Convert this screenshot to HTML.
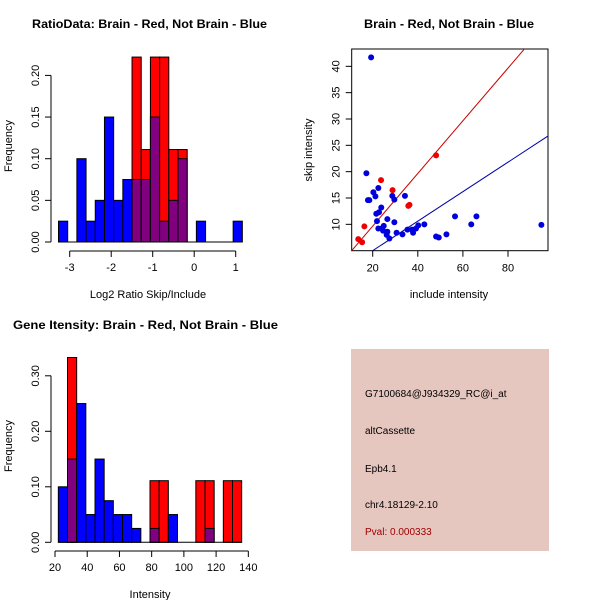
<!DOCTYPE html>
<html><head><meta charset="utf-8"><style>
html,body{margin:0;padding:0;background:#fff}
svg{display:block;font-family:"Liberation Sans",sans-serif}
</style></head><body>
<svg id="c" width="600" height="600" viewBox="0 0 600 600" xmlns="http://www.w3.org/2000/svg">
<rect width="600" height="600" fill="#fff"/>
<g id="p1"></g>
<g id="p2"></g>
<g id="p3"></g>
<g>
<rect x="351" y="349" width="198" height="202" fill="#e5c7c0"/>
<g font-size="10" fill="#000">
<text x="365" y="397">G7100684@J934329_RC@i_at</text>
<text x="365" y="434">altCassette</text>
<text x="365" y="472">Epb4.1</text>
<text x="365" y="508">chr4.18129-2.10</text>
<text x="365" y="535" fill="#a00000">Pval: 0.000333</text>
</g></g>
</svg>
<script>
// Plot 1 data
const h1Start = -3.27, h1Width = 0.2215;
const h1Blue = [0.025,0,0.10,0.025,0.05,0.15,0.05,0.075,0.075,0.075,0.15,0.025,0.05,0.10,0,0.025,0,0,0,0.025];
const h1Red  = [0,0,0,0,0,0,0,0,0.222,0.111,0.222,0.222,0.111,0.111,0,0,0,0,0,0];
const h1XTicks = [-3,-2,-1,0,1];
const h1YTicks = [0,0.05,0.10,0.15,0.20];
const h1YLabels = ["0.00","0.05","0.10","0.15","0.20"];
// Plot 2 data
const scBlueX = [19.3,17.2,20.3,21.2,17.9,18.5,22.5,28.7,29.6,34.3,23.8,22.8,21.6,21.9,26.5,29.6,22.5,24.0,24.9,24.6,26.5,26.2,27.4,30.6,33.2,35.4,37.4,37.9,39.2,40.2,42.9,48.1,49.3,52.7,56.5,63.7,66.0,94.8];
const scBlueY = [41.7,19.7,16.1,15.3,14.6,14.6,16.9,15.4,14.7,15.4,13.2,12.3,12.0,10.6,11.0,10.4,9.2,9.2,9.7,8.8,8.6,8.0,7.3,8.4,8.1,9.0,9.0,8.4,9.2,9.8,10.0,7.7,7.5,8.1,11.5,10.0,11.5,9.9];
const scRedX = [13.6,15.3,16.3,23.7,28.8,35.8,36.3,48.1];
const scRedY = [7.2,6.6,9.6,18.4,16.5,13.5,13.7,23.1];
const lineRed = [0.5, -0.34];   // slope, intercept
const lineBlue = [0.28, -0.6];
const scXTicks = [20,40,60,80];
const scYTicks = [10,15,20,25,30,35,40];
// Plot 3 data
const h3Start = 22.07, h3Width = 5.69;
const h3Blue = [0.10,0.15,0.25,0.05,0.15,0.075,0.05,0.05,0.025,0,0.025,0,0.05,0,0,0,0.025,0,0,0];
const h3Red  = [0,0.333,0,0,0,0,0,0,0,0,0.111,0.111,0,0,0,0.111,0.111,0,0.111,0.111];
const h3XTicks = [20,40,60,80,100,120,140];
const h3YTicks = [0,0.10,0.20,0.30];
const h3YLabels = ["0.00","0.10","0.20","0.30"];

const NS="http://www.w3.org/2000/svg";
function mk(parent,tag,attrs,text){const e=document.createElementNS(NS,tag);for(const k in attrs)e.setAttribute(k,attrs[k]);if(text!==undefined)e.textContent=text;parent.appendChild(e);return e;}

function hist(g,o){
  const X=v=>o.x0+(v-o.xa)*o.xs, Y=v=>o.y0-v*o.ys;
  for(let i=0;i<o.blue.length;i++){
    const a=X(o.start+i*o.w), b=X(o.start+(i+1)*o.w);
    const r=o.red[i], bl=o.blue[i];
    if(r>0){const e=mk(g,'rect',{x:a,y:Y(r),width:b-a,height:Y(0)-Y(r),fill:'#ff0000',stroke:'#000','stroke-width':1});
      
      }
    if(bl>0){
      const col=r>0?'#800080':'#0000ff';
      if(r>0 && bl>r){const e2=mk(g,'rect',{x:a,y:Y(bl),width:b-a,height:Y(r)-Y(bl),fill:'#0000ff',stroke:'#000','stroke-width':1});
        
        }
      const h=r>0?Math.min(r,bl):bl;
      const e=mk(g,'rect',{x:a,y:Y(h),width:b-a,height:Y(0)-Y(h),fill:col,stroke:'#000','stroke-width':1});
      
      
    }
  }
  const base=mk(g,'line',{x1:X(o.start),x2:X(o.start+o.blue.length*o.w),y1:Y(0),y2:Y(0),stroke:'#000'});
  
  
  const ax=mk(g,'g',{});
  
  
  const xt=o.xTicks;
  mk(ax,'line',{x1:X(xt[0]),x2:X(xt[xt.length-1]),y1:o.axY,y2:o.axY,stroke:'#000'});
  xt.forEach(t=>{mk(ax,'line',{x1:X(t),x2:X(t),y1:o.axY,y2:o.axY+6,stroke:'#000'});
    const tx=mk(ax,'text',{x:X(t),y:o.axY+20,'text-anchor':'middle','font-size':11},String(t));
    
    });
  const ay=mk(g,'g',{});
  
  
  const yt=o.yTicks;
  mk(ay,'line',{x1:o.axX,x2:o.axX,y1:Y(yt[0]),y2:Y(yt[yt.length-1]),stroke:'#000'});
  yt.forEach((t,i)=>{mk(ay,'line',{x1:o.axX-6,x2:o.axX,y1:Y(t),y2:Y(t),stroke:'#000'});
    const tx=mk(ay,'text',{x:o.axX-12,y:Y(t),'text-anchor':'middle','font-size':11,transform:`rotate(-90 ${o.axX-12} ${Y(t)})`},o.yLabels[i]);
    
    });
}

const p1=document.getElementById('p1');
hist(p1,{x0:69.7,xa:-3,xs:41.5,y0:242,ys:833,start:h1Start,w:h1Width,blue:h1Blue,red:h1Red,xTicks:h1XTicks,yTicks:h1YTicks,yLabels:h1YLabels,axY:251,axX:51});
let t;
t=mk(p1,'text',{x:32,y:28,'font-size':12,'font-weight':'bold',textLength:235,lengthAdjust:'spacingAndGlyphs'},'RatioData: Brain - Red, Not Brain - Blue');


t=mk(p1,'text',{x:148,y:298,'text-anchor':'middle','font-size':11},'Log2 Ratio Skip/Include');


t=mk(p1,'text',{x:12,y:146,'text-anchor':'middle','font-size':11,transform:'rotate(-90 12 146)'},'Frequency');



const p3=document.getElementById('p3');
hist(p3,{x0:55,xa:20,xs:1.611,y0:542.3,ys:555,start:h3Start,w:h3Width,blue:h3Blue,red:h3Red,xTicks:h3XTicks,yTicks:h3YTicks,yLabels:h3YLabels,axY:551,axX:51});
t=mk(p3,'text',{x:13,y:329,'font-size':12,'font-weight':'bold',textLength:265,lengthAdjust:'spacingAndGlyphs'},'Gene Itensity: Brain - Red, Not Brain - Blue');


t=mk(p3,'text',{x:150,y:598,'text-anchor':'middle','font-size':11},'Intensity');


t=mk(p3,'text',{x:12,y:446,'text-anchor':'middle','font-size':11,transform:'rotate(-90 12 446)'},'Frequency');



const p2=document.getElementById('p2');
const L=351.7,R=548,T=49,B=250.7;
const SX=v=>327.6+v*2.255, SY=v=>277-v*5.267;
mk(p2,'defs',{}).innerHTML='<clipPath id="cp"><rect x="'+L+'" y="'+T+'" width="'+(R-L)+'" height="'+(B-T)+'"/></clipPath>';
const fr=mk(p2,'rect',{x:L,y:T,width:R-L,height:B-T,fill:'none',stroke:'#000'});


const lg=mk(p2,'g',{'clip-path':'url(#cp)'});
[[lineRed,'#cc0000','fit-line-brain'],[lineBlue,'#0000aa','fit-line-notbrain']].forEach(([p,c,n])=>{
  const e=mk(lg,'line',{x1:SX(0),y1:SY(p[1]),x2:SX(120),y2:SY(p[0]*120+p[1]),stroke:c,'stroke-width':1});
  
  });
scBlueX.forEach((x,i)=>{const e=mk(p2,'circle',{cx:SX(x),cy:SY(scBlueY[i]),r:3,fill:'#0000dd'});
  
  });
scRedX.forEach((x,i)=>{const e=mk(p2,'circle',{cx:SX(x),cy:SY(scRedY[i]),r:3,fill:'#ee0000'});
  
  });
scXTicks.forEach(v=>{mk(p2,'line',{x1:SX(v),x2:SX(v),y1:B,y2:B+6,stroke:'#000'});
  const e=mk(p2,'text',{x:SX(v),y:B+21,'text-anchor':'middle','font-size':11},String(v));
  
  });
scYTicks.forEach(v=>{mk(p2,'line',{x1:L-6,x2:L,y1:SY(v),y2:SY(v),stroke:'#000'});
  const x=L-12;
  const e=mk(p2,'text',{x:x,y:SY(v),'text-anchor':'middle','font-size':11,transform:`rotate(-90 ${x} ${SY(v)})`},String(v));
  
  });
t=mk(p2,'text',{x:449,y:28,'text-anchor':'middle','font-size':12,'font-weight':'bold',textLength:170,lengthAdjust:'spacingAndGlyphs'},'Brain - Red, Not Brain - Blue');


t=mk(p2,'text',{x:449,y:298,'text-anchor':'middle','font-size':11},'include intensity');


t=mk(p2,'text',{x:312,y:150,'text-anchor':'middle','font-size':11,transform:'rotate(-90 312 150)'},'skip intensity');


</script>
</body></html>
